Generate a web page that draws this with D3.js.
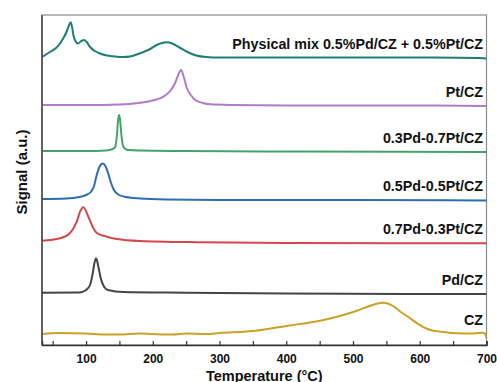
<!DOCTYPE html>
<html>
<head>
<meta charset="utf-8">
<script src="https://cdn.jsdelivr.net/npm/d3@7"></script>
<style>
  body { margin: 0; background: #fff; }
  svg { display: block; font-family: Arial, "Liberation Sans", sans-serif; }
</style>
</head>
<body>
<div id="chart"></div>
<script>
// series names, top to bottom
const seriesNames = [
  'Physical mix 0.5%Pd/CZ + 0.5%Pt/CZ',
  'Pt/CZ',
  '0.3Pd-0.7Pt/CZ',
  '0.5Pd-0.5Pt/CZ',
  '0.7Pd-0.3Pt/CZ',
  'Pd/CZ',
  'CZ'
];
const seriesColors = ['#1f7d78', '#b07cc8', '#45a36a', '#2f6db5', '#d5474f', '#454545', '#c9a227'];

// temperature (°C) / signal (a.u., offset already applied) pairs
const physMixT = [34, 46, 55, 61, 66, 71, 74, 77, 79, 81, 84, 88, 92, 97, 101, 106, 113, 121, 131, 141, 155, 166, 180, 196, 206, 214, 221, 229, 240, 252, 265, 280, 300, 400, 500, 600, 690, 700];
const physMixS = [288, 293, 297, 301.5, 307, 313.5, 319, 322.7, 318, 310, 304, 301.5, 303.5, 305, 303, 298, 294, 291.5, 289.5, 288.7, 288, 288.5, 291.5, 296, 300, 302, 302.7, 301.5, 297.5, 293, 289.5, 288, 287.5, 287.5, 287.5, 287.5, 287, 286.5];

const ptT = [34, 100, 150, 181, 200, 216, 226, 233.5, 238, 242.5, 246, 251, 257, 263.5, 275, 286, 320, 400, 500, 600, 700];
const ptS = [240, 240, 240.5, 242.3, 244.5, 248.3, 254, 262, 270, 275, 269, 257, 250, 245, 242, 240.7, 240, 239.5, 239.5, 239.5, 239];

const pd3T = [34, 100, 130, 140, 144, 146, 148, 149.5, 151, 153, 155, 158, 163, 180, 250, 400, 700];
const pd3S = [194, 194, 194.5, 196, 198.5, 208, 225, 230, 225, 210, 200, 196.5, 195, 194.5, 194, 193.5, 193];

const pd5T = [34, 70, 90, 100, 107, 112, 116, 120, 125, 129, 133, 137, 141, 148, 160, 181, 220, 300, 500, 700];
const pd5S = [146, 146.5, 148, 150, 153, 159, 170, 178, 181.5, 179, 172, 163, 156, 150.5, 148, 146.5, 145.5, 145, 145, 144.5];

const pd7T = [34, 61, 76, 86, 91, 96, 103.5, 111, 116, 131, 146, 181, 271, 400, 700];
const pd7S = [104.3, 106.7, 112, 123.3, 133.3, 137.7, 128.3, 116.7, 112, 108.3, 106, 104, 102.7, 102, 101.7];

const pdT = [34, 90, 100, 106, 110, 112.5, 115, 118.5, 122, 127, 133, 156, 250, 400, 700];
const pdS = [52.3, 52.5, 55, 60, 71.7, 81.7, 86.7, 78.3, 66.7, 58.3, 55, 53, 52.3, 51.5, 51];

const czT = [34, 60, 100, 130, 150, 180, 200, 230, 250, 280, 300, 350, 400, 456, 480, 506, 525, 545, 560, 571, 585, 596, 616, 636, 656, 680, 695, 698, 700];
const czS = [11, 12, 11.5, 10.5, 10.5, 11.5, 11, 10.5, 11.5, 11, 12, 14, 19, 25, 29, 34.3, 39, 42.3, 39, 33.3, 27, 21.7, 15, 13, 11.7, 11.5, 12.3, 11, 7];

const seriesT = [physMixT, ptT, pd3T, pd5T, pd7T, pdT, czT];
const seriesS = [physMixS, ptS, pd3S, pd5S, pd7S, pdS, czS];

const xTicks = [50, 100, 150, 200, 250, 300, 350, 400, 450, 500, 550, 600, 650, 700];
const xDomain = [34, 700];
const yDomain = [0, 330];

const width = 497, height = 382;
const margin = { top: 15, right: 10.5, bottom: 37, left: 42 };

const svg = d3.select('#chart')
  .append('svg')
  .attr('width', width)
  .attr('height', height);

const x = d3.scaleLinear().domain(xDomain).range([margin.left, width - margin.right]);
const y = d3.scaleLinear().domain(yDomain).range([height - margin.bottom, margin.top]);

// frame
svg.append('rect')
  .attr('x', margin.left)
  .attr('y', margin.top)
  .attr('width', width - margin.right - margin.left)
  .attr('height', height - margin.bottom - margin.top)
  .attr('fill', 'none')
  .attr('stroke', '#8a8a8a')
  .attr('stroke-width', 1.2);

// curves
const line = d3.line()
  .x(d => x(d[0]))
  .y(d => y(d[1]))
  .curve(d3.curveMonotoneX);

seriesNames.forEach((name, i) => {
  const pts = seriesT[i].map((t, j) => [t, seriesS[i][j]]);
  svg.append('path')
    .datum(pts)
    .attr('fill', 'none')
    .attr('stroke', seriesColors[i])
    .attr('stroke-width', 2)
    .attr('stroke-linejoin', 'round')
    .attr('d', line);

  const last = seriesS[i][seriesS[i].length - 2];
  svg.append('text')
    .attr('x', width - margin.right - 3.5)
    .attr('y', y(last) - 9)
    .attr('text-anchor', 'end')
    .attr('font-size', 14.3)
    .attr('font-weight', 'bold')
    .attr('fill', '#111')
    .text(name);
});

// x axis (inward ticks)
const xAxis = svg.append('g')
  .attr('transform', `translate(0,${height - margin.bottom})`)
  .call(d3.axisBottom(x)
    .tickValues(xTicks)
    .tickSize(-4)
    .tickPadding(9)
    .tickFormat(d => d % 100 === 0 ? d : ''));
xAxis.select('.domain').attr('stroke', '#333').attr('stroke-width', 1.5);
xAxis.selectAll('.tick line').attr('stroke', '#333').attr('stroke-width', 1.2);
xAxis.selectAll('.tick text')
  .attr('font-size', 12)
  .attr('font-weight', 'bold')
  .attr('font-family', 'Arial, "Liberation Sans", sans-serif')
  .attr('fill', '#111');

// left axis line
svg.append('line')
  .attr('x1', margin.left).attr('x2', margin.left)
  .attr('y1', margin.top).attr('y2', height - margin.bottom)
  .attr('stroke', '#444')
  .attr('stroke-width', 1.5);

// axis titles
svg.append('text')
  .attr('x', (margin.left + width - margin.right) / 2)
  .attr('y', 380.5)
  .attr('text-anchor', 'middle')
  .attr('font-size', 14.5)
  .attr('font-weight', 'bold')
  .attr('fill', '#111')
  .text('Temperature (°C)');

svg.append('text')
  .attr('transform', 'translate(26.5,172) rotate(-90)')
  .attr('text-anchor', 'middle')
  .attr('font-size', 15)
  .attr('font-weight', 'bold')
  .attr('fill', '#111')
  .text('Signal (a.u.)');
</script>
</body>
</html>
